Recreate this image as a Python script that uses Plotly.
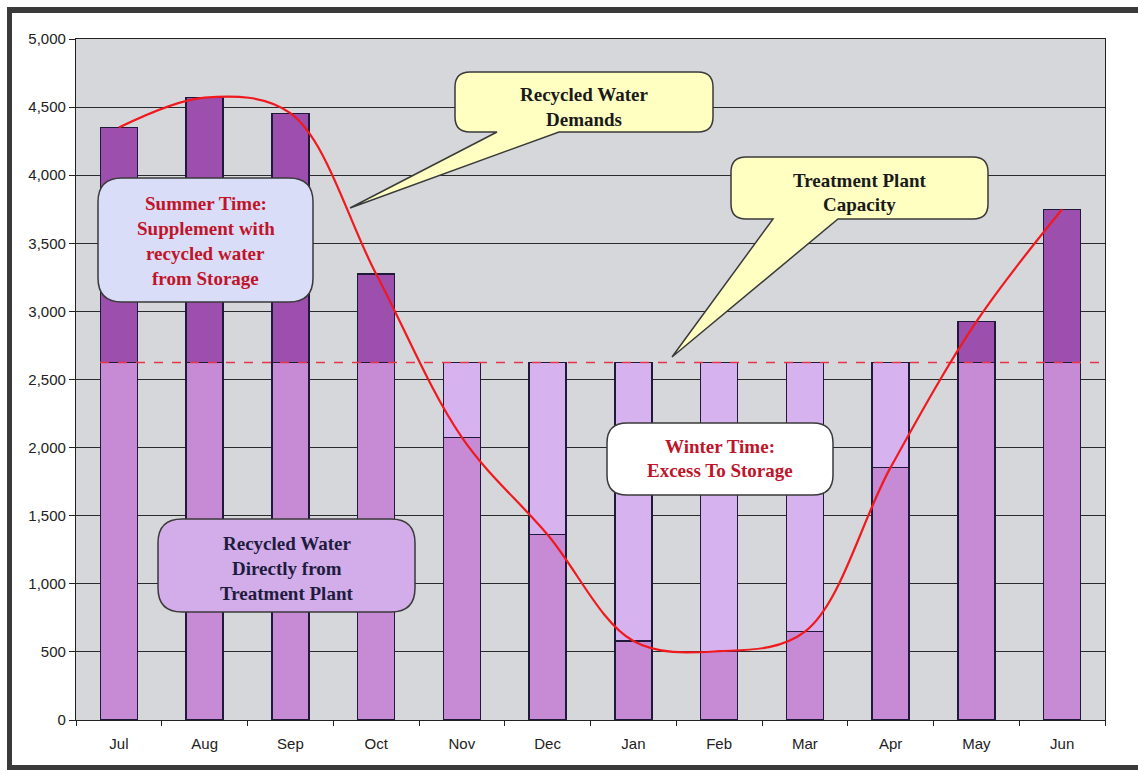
import plotly.graph_objects as go

# ---------------- data ----------------
months = ["Jul", "Aug", "Sep", "Oct", "Nov", "Dec", "Jan", "Feb", "Mar", "Apr", "May", "Jun"]
demand = [4350, 4570, 4455, 3275, 2075, 1360, 580, 505, 648, 1855, 2925, 3750]
capacity = 2625

direct = [min(d, capacity) for d in demand]
from_storage = [d - capacity if d > capacity else None for d in demand]
to_storage = [capacity - d if d < capacity else None for d in demand]

# ---------------- layout geometry ----------------
W, H = 1138, 770
L, R, T, B = 76, 1105, 39, 720


def px(x):
    return (x - L) / (R - L)


def py(y):
    return (B - y) / (B - T)


fig = go.Figure()

bar_line = dict(color="#1f1a3a", width=1.4)
fig.add_trace(go.Bar(x=months, y=direct, marker=dict(color="#C78AD5", line=bar_line),
                     width=0.43, name="Recycled Water Directly from Treatment Plant"))
fig.add_trace(go.Bar(x=months, y=from_storage, marker=dict(color="#9C4FAC", line=bar_line),
                     width=0.43, name="Supplement from Storage"))
fig.add_trace(go.Bar(x=months, y=to_storage, marker=dict(color="#D6B3EE", line=bar_line),
                     width=0.43, name="Excess To Storage"))

# capacity dashed line and demand curve on overlay numeric axis
fig.add_trace(go.Scatter(x=[-0.22, 11.5], y=[capacity, capacity], mode="lines",
                         line=dict(color="#E8344A", width=1.6, dash="dash"),
                         xaxis="x2", name="Treatment Plant Capacity"))
fig.add_trace(go.Scatter(x=list(range(len(months))), y=demand, mode="lines",
                         line=dict(color="#F0191E", width=2.2, shape="spline", smoothing=1.0),
                         xaxis="x2", name="Recycled Water Demands"))


def bubble(x0, y0, x1, y1, r, tail=None):
    """rounded rectangle (pixel coords) with optional bottom tail -> paper path"""
    def P(x, y):
        return f"{px(x):.5f},{py(y):.5f}"
    p = [f"M{P(x0 + r, y0)}", f"L{P(x1 - r, y0)}", f"Q{P(x1, y0)} {P(x1, y0 + r)}",
         f"L{P(x1, y1 - r)}", f"Q{P(x1, y1)} {P(x1 - r, y1)}"]
    if tail:
        bx1, bx2, tx, ty = tail
        p += [f"L{P(bx2, y1)}", f"L{P(tx, ty)}", f"L{P(bx1, y1)}"]
    p += [f"L{P(x0 + r, y1)}", f"Q{P(x0, y1)} {P(x0, y1 - r)}",
          f"L{P(x0, y0 + r)}", f"Q{P(x0, y0)} {P(x0 + r, y0)}", "Z"]
    return " ".join(p)


bubbles = [
    dict(box=(98, 178, 313, 302), r=24, fill="#D9DDF7", tail=None,
         lines=["Summer Time:", "Supplement with", "recycled water", "from Storage"],
         ys=[203, 228, 253, 278], color="#C0142A"),
    dict(box=(158, 519, 415, 612), r=24, fill="#D3ACEA", tail=None,
         lines=["Recycled Water", "Directly from", "Treatment Plant"],
         ys=[543, 568, 593], color="#1e1c3e"),
    dict(box=(607, 423, 833, 495), r=20, fill="#FFFFFF", tail=None,
         lines=["Winter Time:", "Excess To Storage"],
         ys=[446, 470], color="#C0142A"),
    dict(box=(455, 72, 713, 132), r=15, fill="#FFFFC2", tail=(497, 559, 350, 208),
         lines=["Recycled Water", "Demands"], ys=[95, 119], color="#1a1a1a"),
    dict(box=(731, 157, 988, 219), r=15, fill="#FFFFC2", tail=(773, 838, 672, 357),
         lines=["Treatment Plant", "Capacity"], ys=[180, 204], color="#1a1a1a"),
]

shapes = []
annotations = []
for bdef in bubbles:
    x0, y0, x1, y1 = bdef["box"]
    shapes.append(dict(type="path", xref="paper", yref="paper", layer="above",
                       path=bubble(x0, y0, x1, y1, bdef["r"], bdef["tail"]),
                       fillcolor=bdef["fill"], line=dict(color="#3a3a3a", width=1.5)))
    cx = (x0 + x1) / 2
    for txt, yy in zip(bdef["lines"], bdef["ys"]):
        annotations.append(dict(x=px(cx), y=py(yy), xref="paper", yref="paper",
                                text=f"<b>{txt}</b>", showarrow=False,
                                xanchor="center", yanchor="middle",
                                font=dict(family="Liberation Serif", size=19,
                                          color=bdef["color"])))

# outer frame (top, left, bottom)
frame = "#3a3a3a"
for (a, b, c, d) in [(7, 7, 1138, 13), (7, 7, 12, 770), (7, 765, 1138, 770)]:
    shapes.append(dict(type="rect", xref="paper", yref="paper", layer="above",
                       x0=px(a), x1=px(c), y0=py(b), y1=py(d),
                       fillcolor=frame, line=dict(width=0)))

fig.update_layout(
    width=W, height=H,
    margin=dict(l=L, r=W - R, t=T, b=H - B),
    paper_bgcolor="white", plot_bgcolor="#D5D7DA",
    barmode="stack", showlegend=False,
    shapes=shapes, annotations=annotations,
    font=dict(family="Liberation Sans", size=15, color="#222"),
    xaxis=dict(type="category", tickson="boundaries", ticks="outside", ticklen=5,
               tickcolor="#222", showline=True, linecolor="#222", linewidth=1.3,
               mirror=True, showgrid=False, ticklabelstandoff=10,
               tickfont=dict(size=15, color="#222")),
    xaxis2=dict(overlaying="x", range=[-0.5, 11.5], visible=False),
    yaxis=dict(range=[0, 5000], dtick=500, tickformat=",d", ticks="outside", ticklen=6,
               tickcolor="#222", showline=True, linecolor="#222", linewidth=1.3,
               mirror=True, showgrid=True, gridcolor="#2a2a2a", gridwidth=1.2,
               zeroline=False, tickfont=dict(size=15, color="#222")),
)

fig.write_html("out.html", config={"displayModeBar": False},
               post_script="document.body.style.margin='0';document.body.style.overflow='hidden';")
